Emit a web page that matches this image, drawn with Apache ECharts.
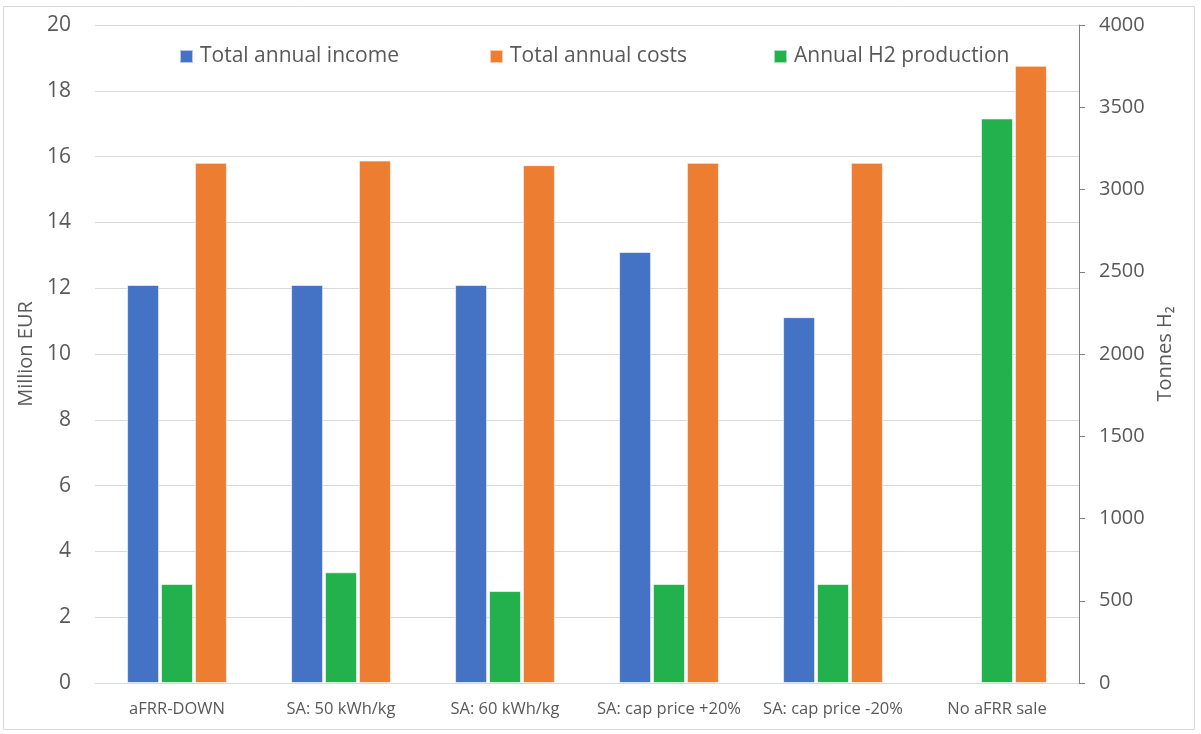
<!DOCTYPE html>
<html>
<head>
<meta charset="utf-8">
<script src="https://cdn.jsdelivr.net/npm/echarts@6/dist/echarts.min.js"></script>
<style>
html,body{margin:0;padding:0;background:#fff;}
#chart{width:1201px;height:734px;}
</style>
</head>
<body>
<div id="chart"></div>
<script>
const categories = ['aFRR-DOWN', 'SA: 50 kWh/kg', 'SA: 60 kWh/kg', 'SA: cap price +20%', 'SA: cap price -20%', 'No aFRR sale'];
const incomeValues = [12.1, 12.1, 12.1, 13.1, 11.12, null];
const costValues = [15.81, 15.88, 15.74, 15.81, 15.81, 18.76];
const h2Values = [602, 673, 559, 602, 602, 3432];
const leftTicks = {min: 0, max: 20, interval: 2};
const rightTicks = {min: 0, max: 4000, interval: 500};

const FONT = 'Open Sans';
const TXT = '#595959';
const chart = echarts.init(document.getElementById('chart'));
const legendBase = {
  top: 41, itemWidth: 13, itemHeight: 13, icon: 'rect',
  textStyle: {fontFamily: FONT, fontSize: 21, color: TXT, padding: [0, 0, 0, 2]}
};
chart.setOption({
  animation: false,
  textStyle: {fontFamily: FONT},
  graphic: [{type: 'rect', shape: {x: 3.5, y: 6.5, width: 1191, height: 723}, style: {fill: 'none', stroke: '#d9d9d9', lineWidth: 1}, silent: true}],
  legend: [
    Object.assign({left: 174, data: ['Total annual income']}, legendBase),
    Object.assign({left: 484, data: ['Total annual costs']}, legendBase),
    Object.assign({left: 768, data: ['Annual H2 production']}, legendBase)
  ],
  grid: {left: 95, right: 122, top: 25, bottom: 51, containLabel: false},
  xAxis: {
    type: 'category', data: categories,
    axisLine: {lineStyle: {color: '#d9d9d9', width: 1}},
    axisTick: {show: false},
    axisLabel: {fontFamily: FONT, fontSize: 16.5, color: TXT, margin: 18, interval: 0}
  },
  yAxis: [
    {
      type: 'value', min: leftTicks.min, max: leftTicks.max, interval: leftTicks.interval,
      name: 'Million EUR', nameLocation: 'middle', nameGap: 52, nameRotate: 90,
      nameTextStyle: {fontFamily: FONT, fontSize: 20, color: TXT},
      axisLine: {show: false}, axisTick: {show: false},
      axisLabel: {fontFamily: FONT, fontSize: 21, color: TXT, margin: 24},
      splitLine: {lineStyle: {color: '#d9d9d9', width: 1}}
    },
    {
      type: 'value', min: rightTicks.min, max: rightTicks.max, interval: rightTicks.interval,
      position: 'right',
      name: 'Tonnes H₂', nameLocation: 'middle', nameGap: 74, nameRotate: 90,
      nameTextStyle: {fontFamily: FONT, fontSize: 20, color: TXT},
      axisLine: {show: true, lineStyle: {color: '#7f7f7f', width: 1}},
      axisTick: {show: true, length: 6, inside: false, lineStyle: {color: '#7f7f7f'}},
      axisLabel: {fontFamily: FONT, fontSize: 20, color: TXT, margin: 20, formatter: function (v) { return String(v); }},
      splitLine: {show: false}
    }
  ],
  series: [
    {name: 'Total annual income', type: 'bar', yAxisIndex: 0, data: incomeValues, barWidth: 32, barGap: '6%',
     itemStyle: {color: '#4472C4', borderColor: 'rgba(255,255,255,0.6)', borderWidth: 1}},
    {name: 'Annual H2 production', type: 'bar', yAxisIndex: 1, data: h2Values, barWidth: 32, barGap: '6%',
     itemStyle: {color: '#23B14D', borderColor: 'rgba(255,255,255,0.6)', borderWidth: 1}},
    {name: 'Total annual costs', type: 'bar', yAxisIndex: 0, data: costValues, barWidth: 32, barGap: '6%',
     itemStyle: {color: '#ED7D31', borderColor: 'rgba(255,255,255,0.6)', borderWidth: 1}}
  ]
});
</script>
</body>
</html>
